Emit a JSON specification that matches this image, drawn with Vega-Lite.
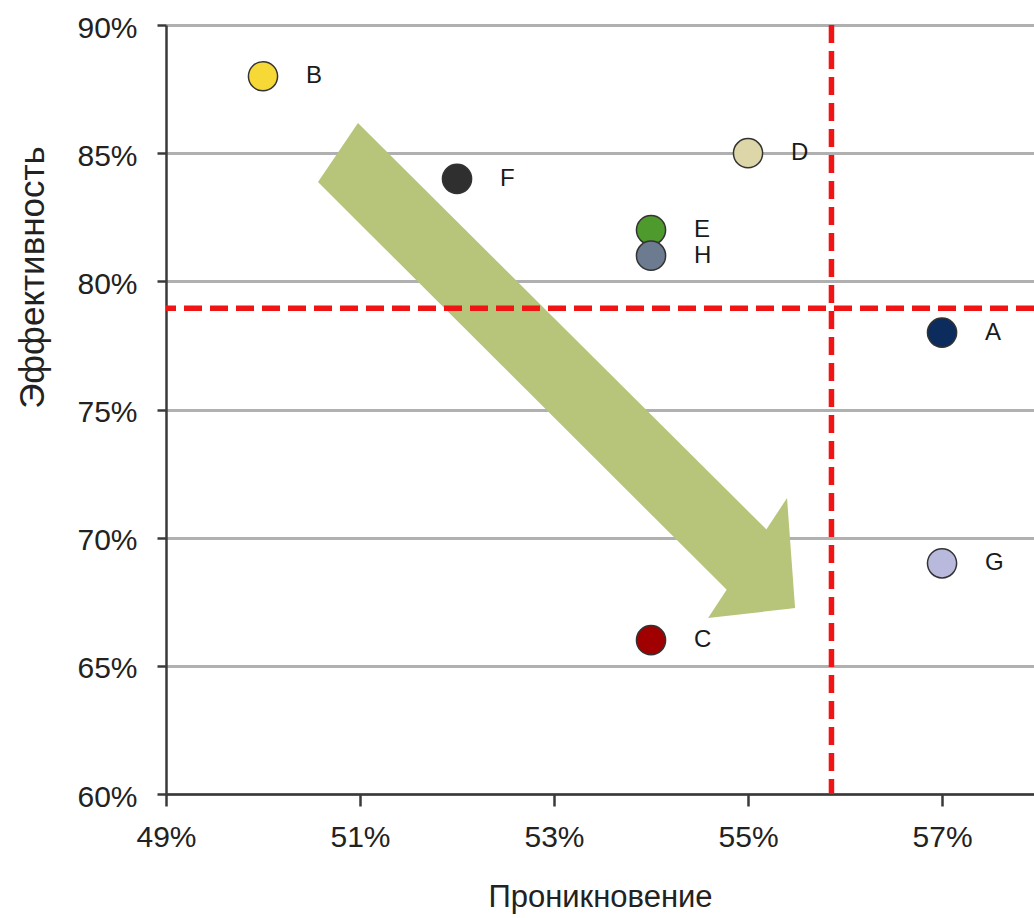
{
  "$schema": "https://vega.github.io/schema/vega-lite/v6.json",
  "width": 868,
  "height": 769,
  "autosize": {"type": "none"},
  "padding": {"left": 166, "top": 25, "right": 0, "bottom": 124},
  "background": "white",
  "config": {"view": {"stroke": null}, "font": "Liberation Sans"},
  "datasets": {
    "points": [
      {"name": "A", "x": 57, "y": 78},
      {"name": "B", "x": 50, "y": 88},
      {"name": "C", "x": 54, "y": 66},
      {"name": "D", "x": 55, "y": 85},
      {"name": "E", "x": 54, "y": 82},
      {"name": "F", "x": 52, "y": 84},
      {"name": "G", "x": 57, "y": 69},
      {"name": "H", "x": 54, "y": 81}
    ],
    "shaft": [
      {"x": 50.567, "y": 83.874, "y2": 83.874},
      {"x": 50.979, "y": 86.176, "y2": 82.318},
      {"x": 54.794, "y": 71.810, "y2": 67.916},
      {"x": 55.227, "y": 70.179, "y2": 70.179}
    ],
    "head": [
      {"x": 54.588, "y": 66.863, "y2": 66.863},
      {"x": 55.402, "y": 71.545, "y2": 67.218},
      {"x": 55.485, "y": 67.253, "y2": 67.253}
    ],
    "vline": [{"x": 55.86}],
    "hline": [{"y": 78.95}]
  },
  "layer": [
    {
      "data": {"name": "points"},
      "mark": {"type": "point", "opacity": 0},
      "encoding": {
        "x": {
          "field": "x", "type": "quantitative",
          "scale": {"domain": [49, 57.948], "nice": false, "zero": false},
          "axis": {
            "values": [49, 51, 53, 55, 57],
            "labelExpr": "datum.value + '%'",
            "grid": false,
            "domainColor": "#3a3a3a", "domainWidth": 2.5,
            "tickColor": "#3a3a3a", "tickWidth": 2.5, "tickSize": 12,
            "labelFont": "Liberation Sans", "labelFontSize": 30, "labelColor": "#222222",
            "labelPadding": 16, "labelBaseline": "top", "labelFlush": false, "labelOverlap": false, "labelBound": false,
            "title": "Проникновение",
            "titleFont": "Liberation Sans", "titleFontSize": 31, "titleFontWeight": "normal", "titleColor": "#222222",
            "titleY": 112, "titleBaseline": "alphabetic"
          }
        },
        "y": {
          "field": "y", "type": "quantitative",
          "scale": {"domain": [60, 90], "nice": false, "zero": false},
          "axis": {
            "values": [60, 65, 70, 75, 80, 85, 90],
            "labelExpr": "datum.value + '%'",
            "grid": true, "gridColor": "#b0b0b0", "gridWidth": 3,
            "domainColor": "#3a3a3a", "domainWidth": 2.5,
            "tickColor": "#3a3a3a", "tickWidth": 2.5, "tickSize": 9,
            "labelFont": "Liberation Sans", "labelFontSize": 30, "labelColor": "#222222",
            "labelPadding": 20, "labelOffset": 3, "labelOverlap": false, "labelBound": false, "labelFlush": false,
            "title": "Эффективность",
            "titleFont": "Liberation Sans", "titleFontSize": 35, "titleFontWeight": "normal", "titleColor": "#222222",
            "titleX": -123, "titleY": 252, "titleAngle": 270, "titleAlign": "center", "titleBaseline": "alphabetic"
          }
        }
      }
    },
    {
      "data": {"name": "shaft"},
      "mark": {"type": "area", "color": "#b6c579", "opacity": 1, "interpolate": "linear"},
      "encoding": {
        "x": {"field": "x", "type": "quantitative", "scale": {"domain": [49, 57.948], "nice": false, "zero": false}},
        "y": {"field": "y", "type": "quantitative", "stack": null, "scale": {"domain": [60, 90], "nice": false, "zero": false}},
        "y2": {"field": "y2"}
      }
    },
    {
      "data": {"name": "head"},
      "mark": {"type": "area", "color": "#b6c579", "opacity": 1, "interpolate": "linear"},
      "encoding": {
        "x": {"field": "x", "type": "quantitative", "scale": {"domain": [49, 57.948], "nice": false, "zero": false}},
        "y": {"field": "y", "type": "quantitative", "stack": null, "scale": {"domain": [60, 90], "nice": false, "zero": false}},
        "y2": {"field": "y2"}
      }
    },
    {
      "data": {"name": "hline"},
      "mark": {"type": "rule", "color": "#f01414", "strokeWidth": 5.5, "strokeDash": [18, 8]},
      "encoding": {
        "y": {"field": "y", "type": "quantitative", "scale": {"domain": [60, 90], "nice": false, "zero": false}}
      }
    },
    {
      "data": {"name": "vline"},
      "mark": {"type": "rule", "color": "#f01414", "strokeWidth": 5.5, "strokeDash": [18, 8]},
      "encoding": {
        "x": {"field": "x", "type": "quantitative", "scale": {"domain": [49, 57.948], "nice": false, "zero": false}}
      }
    },
    {
      "data": {"name": "points"},
      "mark": {"type": "point", "shape": "circle", "filled": true, "size": 850, "opacity": 1, "stroke": "#333333", "strokeWidth": 1.5},
      "encoding": {
        "x": {"field": "x", "type": "quantitative", "scale": {"domain": [49, 57.948], "nice": false, "zero": false}},
        "y": {"field": "y", "type": "quantitative", "scale": {"domain": [60, 90], "nice": false, "zero": false}},
        "color": {
          "field": "name", "type": "nominal", "legend": null,
          "scale": {
            "domain": ["A", "B", "C", "D", "E", "F", "G", "H"],
            "range": ["#0b2c5c", "#f6d836", "#a00000", "#ddd6a8", "#4f9a2c", "#2f2f2f", "#b9b9dd", "#6c7b90"]
          }
        }
      }
    },
    {
      "data": {"name": "points"},
      "mark": {"type": "text", "align": "left", "baseline": "middle", "dx": 43, "fontSize": 24, "font": "Liberation Sans", "color": "#1a1a1a"},
      "encoding": {
        "x": {"field": "x", "type": "quantitative", "scale": {"domain": [49, 57.948], "nice": false, "zero": false}},
        "y": {"field": "y", "type": "quantitative", "scale": {"domain": [60, 90], "nice": false, "zero": false}},
        "text": {"field": "name"}
      }
    }
  ]
}
